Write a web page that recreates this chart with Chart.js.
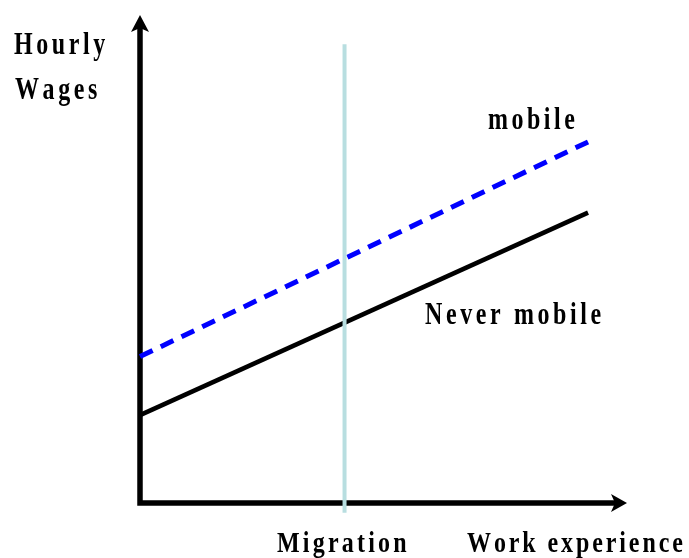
<!DOCTYPE html>
<html>
<head>
<meta charset="utf-8">
<script src="https://cdn.jsdelivr.net/npm/chart.js@4"></script>
<style>
  html, body { margin: 0; padding: 0; background: #fff; }
  #wrap { width: 689px; height: 558px; }
</style>
</head>
<body>
<div id="wrap"><canvas id="wageChart" width="689" height="558"></canvas></div>
<script>
// data (arbitrary units, schematic chart)
const experience = [0, 92];
const wagesMobile = [30, 74];
const wagesNeverMobile = [18, 59.5];
const migrationAt = 42;
const migrationSpan = [-2, 94];
const axisRange = [0, 100];

const toPoints = (xs, ys) => xs.map((x, i) => ({ x: x, y: ys[i] }));

// stretched bold serif text, drawn letter by letter
function drawLabel(ctx, text, x, y, spacing, stretch) {
    ctx.save();
    ctx.translate(x, y);
    ctx.scale(1, stretch);
    ctx.font = 'bold 24px "Liberation Serif", "Times New Roman", serif';
    ctx.fillStyle = '#000';
    ctx.textBaseline = 'alphabetic';
    let cx = 0;
    for (const ch of text) {
        ctx.fillText(ch, cx, 0);
        cx += ctx.measureText(ch).width + spacing;
    }
    ctx.restore();
}

const axesPlugin = {
    id: 'arrowAxes',
    beforeDatasetsDraw(chart) {
        const { ctx, scales: { x, y } } = chart;
        const x0 = x.getPixelForValue(axisRange[0]);
        const x1 = x.getPixelForValue(axisRange[1]);
        const y0 = y.getPixelForValue(axisRange[0]);
        const y1 = y.getPixelForValue(axisRange[1]);
        ctx.save();
        ctx.strokeStyle = '#000';
        ctx.fillStyle = '#000';
        ctx.lineWidth = 5.5;
        ctx.beginPath();
        ctx.moveTo(x0, y0 + 2.75);
        ctx.lineTo(x0, y1 + 12);
        ctx.moveTo(x0 - 2.75, y0);
        ctx.lineTo(x1 - 12, y0);
        ctx.stroke();
        // y arrow head
        ctx.beginPath();
        ctx.moveTo(x0, y1);
        ctx.lineTo(x0 + 9, y1 + 17);
        ctx.lineTo(x0, y1 + 13);
        ctx.lineTo(x0 - 9, y1 + 17);
        ctx.closePath();
        ctx.fill();
        // x arrow head
        ctx.beginPath();
        ctx.moveTo(x1, y0);
        ctx.lineTo(x1 - 16, y0 + 9);
        ctx.lineTo(x1 - 12, y0);
        ctx.lineTo(x1 - 16, y0 - 9);
        ctx.closePath();
        ctx.fill();
        ctx.restore();
    },
    afterDraw(chart) {
        const ctx = chart.ctx;
        drawLabel(ctx, 'Hourly', 14, 54, 3.6, 1.3);
        drawLabel(ctx, 'Wages', 15, 99, 3.6, 1.3);
        drawLabel(ctx, 'mobile', 488, 129, 3.5, 1.3);
        drawLabel(ctx, 'Never mobile', 425, 324, 3.6, 1.3);
        drawLabel(ctx, 'Migration', 277, 552, 3.2, 1.2);
        drawLabel(ctx, 'Work experience', 467, 552, 2.9, 1.2);
    }
};

new Chart(document.getElementById('wageChart'), {
    type: 'line',
    data: {
        datasets: [
            {
                label: 'Migration',
                data: [{ x: migrationAt, y: migrationSpan[0] }, { x: migrationAt, y: migrationSpan[1] }],
                borderColor: 'rgb(184, 222, 224)',
                borderWidth: 4,
                pointRadius: 0,
                clip: false,
            },
            {
                label: 'mobile',
                data: toPoints(experience, wagesMobile),
                borderColor: '#0000ff',
                borderWidth: 5,
                borderDash: [14, 9],
                pointRadius: 0,
                clip: false,
            },
            {
                label: 'Never mobile',
                data: toPoints(experience, wagesNeverMobile),
                borderColor: '#000',
                borderWidth: 4.5,
                pointRadius: 0,
                clip: false,
            }
        ]
    },
    options: {
        responsive: false,
        animation: false,
        layout: { padding: { left: 140, right: 62, top: 15, bottom: 55 } },
        scales: {
            x: { type: 'linear', min: axisRange[0], max: axisRange[1], display: false },
            y: { type: 'linear', min: axisRange[0], max: axisRange[1], display: false }
        },
        plugins: {
            legend: { display: false },
            tooltip: { enabled: false }
        }
    },
    plugins: [axesPlugin]
});
</script>
</body>
</html>
